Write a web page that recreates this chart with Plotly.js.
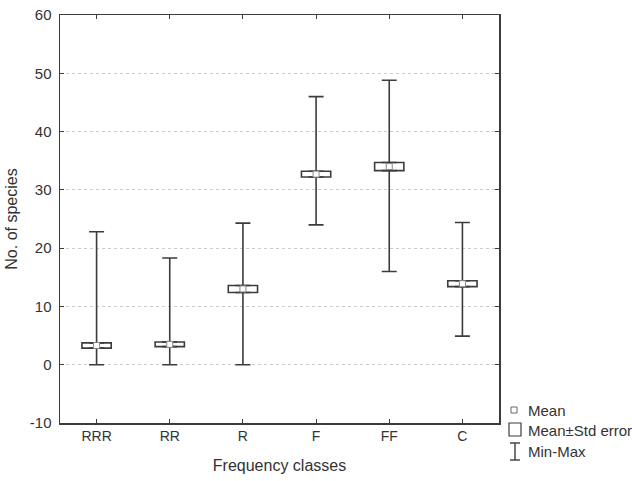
<!DOCTYPE html>
<html>
<head>
<meta charset="utf-8">
<script src="https://cdn.plot.ly/plotly-3.0.1.min.js"></script>
<style>
  html, body { margin: 0; padding: 0; background: #fff; }
  #chart { width: 632px; height: 481px; }
</style>
</head>
<body>
<div id="chart"></div>
<script>
// Frequency classes and the per-class statistics of species counts
const classes = ["RRR", "RR", "R", "F", "FF", "C"];
const means   = [3.3, 3.5, 13.0, 32.7, 34.0, 13.9];
const stdErr  = [0.45, 0.4, 0.6, 0.5, 0.7, 0.5];
const minVals = [0, 0, 0, 24.0, 16.0, 4.9];
const maxVals = [22.8, 18.3, 24.3, 46.0, 48.8, 24.4];
const yTickVals = [-10, 0, 10, 20, 30, 40, 50, 60];
const yTickText = ["-10", "0", "10", "20", "30", "40", "50", "60"];

const ink = "#3c3c3c";
const font = { family: "Liberation Sans, Arial, sans-serif", size: 14, color: "#333" };

const upper = means.map((m, i) => m + stdErr[i]);
const lower = means.map((m, i) => m - stdErr[i]);

// Whisker from the top of the box up to the maximum (cap at the end)
const whiskerUp = {
  type: "scatter", mode: "markers", x: classes, y: upper,
  marker: { size: 1, opacity: 0 }, hoverinfo: "skip", showlegend: false,
  error_y: { type: "data", symmetric: false,
             array: maxVals.map((v, i) => v - upper[i]),
             arrayminus: classes.map(() => 0),
             color: ink, thickness: 1.6, width: 7.5 }
};
// Whisker from the bottom of the box down to the minimum
const whiskerDown = {
  type: "scatter", mode: "markers", x: classes, y: lower,
  marker: { size: 1, opacity: 0 }, hoverinfo: "skip", showlegend: false,
  error_y: { type: "data", symmetric: false,
             array: classes.map(() => 0),
             arrayminus: lower.map((v, i) => v - minVals[i]),
             color: ink, thickness: 1.6, width: 7.5 }
};
// Mean ± standard error box
const seBox = {
  type: "bar", x: classes, base: lower,
  y: stdErr.map(s => 2 * s), width: 0.4,
  marker: { color: "#ffffff", line: { color: ink, width: 1.6 } },
  hoverinfo: "skip", showlegend: false
};
// Mean marker
const meanPts = {
  type: "scatter", mode: "markers", x: classes, y: means,
  marker: { symbol: "square", size: 6, color: "#ffffff",
            line: { color: "#888", width: 1 } },
  hoverinfo: "skip", showlegend: false
};

// Legend drawn beside the plot area, in paper coordinates
const L = 60, R = 499, T = 15, B = 423;
const px = v => (v - L) / (R - L);
const py = v => (B - v) / (B - T);
const legendShapes = [
  { type: "rect", xref: "paper", yref: "paper",
    x0: px(511), x1: px(517), y0: py(413), y1: py(407),
    line: { color: "#666", width: 1 }, fillcolor: "#fff" },
  { type: "rect", xref: "paper", yref: "paper",
    x0: px(509), x1: px(521), y0: py(436), y1: py(423),
    line: { color: ink, width: 1.2 }, fillcolor: "#fff" },
  { type: "line", xref: "paper", yref: "paper",
    x0: px(515), x1: px(515), y0: py(443), y1: py(460),
    line: { color: ink, width: 1.4 } },
  { type: "line", xref: "paper", yref: "paper",
    x0: px(510), x1: px(520), y0: py(443), y1: py(443),
    line: { color: ink, width: 1.4 } },
  { type: "line", xref: "paper", yref: "paper",
    x0: px(510), x1: px(520), y0: py(460), y1: py(460),
    line: { color: ink, width: 1.4 } }
];
const legendText = [["Mean", 410], ["Mean±Std error", 430], ["Min-Max", 451]].map(([t, y]) => ({
  text: t, xref: "paper", yref: "paper", x: px(526), y: py(y),
  xanchor: "left", yanchor: "middle", showarrow: false, font: { ...font, size: 15 }
}));

const layout = {
  width: 632, height: 481,
  margin: { l: 60, r: 133, t: 15, b: 58 },
  paper_bgcolor: "#fff", plot_bgcolor: "#fff",
  font: font,
  showlegend: false,
  bargap: 0,
  xaxis: {
    type: "category", range: [-0.5, 5.5],
    showline: true, linecolor: ink, linewidth: 1.5, mirror: "ticks",
    ticks: "inside", ticklen: 4, tickcolor: ink, tickwidth: 1,
    showgrid: false, zeroline: false, tickfont: font,
    title: { text: "Frequency classes", font: { ...font, size: 16 }, standoff: 16 }
  },
  yaxis: {
    range: [-10, 60], tickmode: "array", tickvals: yTickVals, ticktext: yTickText,
    showline: true, linecolor: ink, linewidth: 1.5, mirror: "ticks",
    ticks: "inside", ticklen: 4, tickcolor: ink, tickwidth: 1,
    showgrid: true, gridcolor: "#cccccc", griddash: "dot", gridwidth: 1,
    zeroline: false, tickfont: { ...font, size: 15 }, ticklabelstandoff: 4,
    title: { text: "No. of species", font: { ...font, size: 16 }, standoff: 8 }
  },
  shapes: legendShapes,
  annotations: legendText
};

Plotly.newPlot("chart", [seBox, whiskerUp, whiskerDown, meanPts], layout,
  { staticPlot: true, displayModeBar: false });
</script>
</body>
</html>
